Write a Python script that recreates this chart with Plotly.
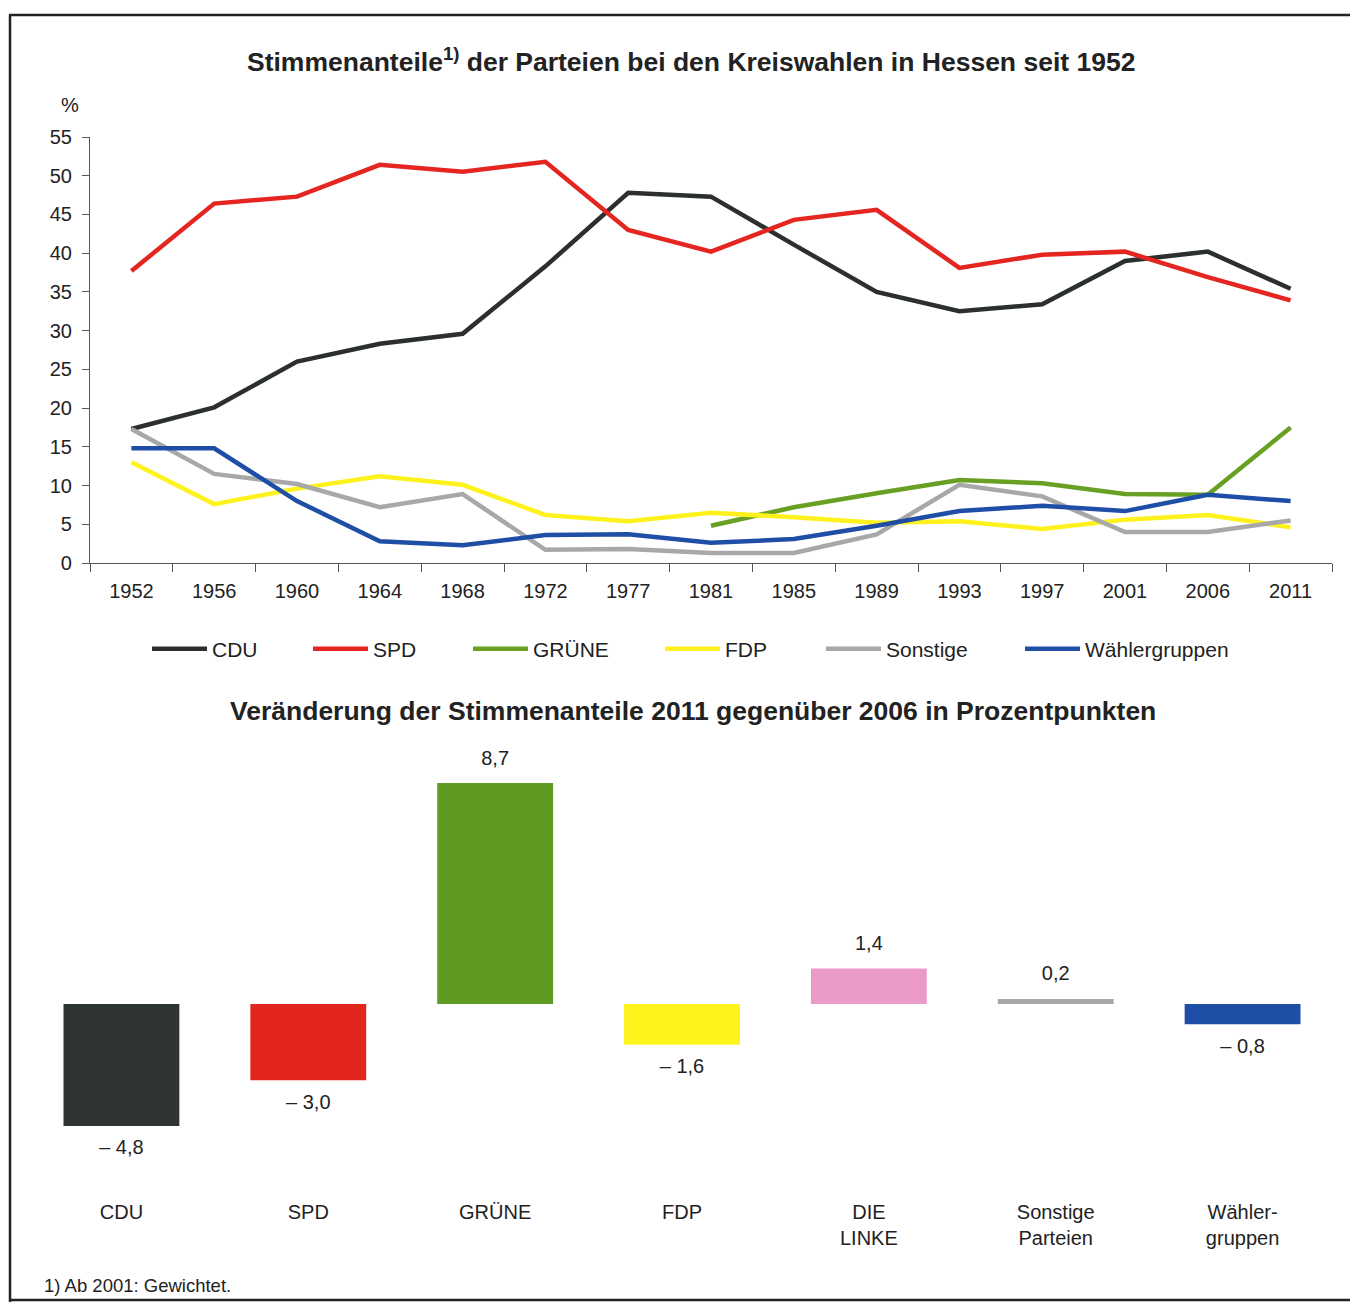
import plotly.graph_objects as go

FONT = "Liberation Sans, Arial, sans-serif"
# page body adds an 8px margin at the top-left; place everything relative to that
OFF = 8
W, H = 1358 - OFF, 1302 - OFF

# ---------------- data ----------------
years = ["1952", "1956", "1960", "1964", "1968", "1972", "1977", "1981",
         "1985", "1989", "1993", "1997", "2001", "2006", "2011"]

cdu = [17.3, 20.1, 26.0, 28.3, 29.6, 38.3, 47.8, 47.3, 41.1, 35.0, 32.5, 33.4, 39.0, 40.2, 35.4]
spd = [37.7, 46.4, 47.3, 51.4, 50.5, 51.8, 43.0, 40.2, 44.3, 45.6, 38.1, 39.8, 40.2, 36.9, 33.9]
gruene = [None, None, None, None, None, None, None, 4.8, 7.2, 9.0, 10.7, 10.3, 8.9, 8.8, 17.5]
fdp = [13.0, 7.6, 9.6, 11.2, 10.1, 6.2, 5.4, 6.5, 5.9, 5.2, 5.4, 4.4, 5.6, 6.2, 4.6]
sonstige = [17.3, 11.5, 10.2, 7.2, 8.9, 1.7, 1.8, 1.3, 1.3, 3.7, 10.1, 8.6, 4.0, 4.0, 5.5]
waehler = [14.8, 14.8, 8.0, 2.8, 2.3, 3.6, 3.7, 2.6, 3.1, 4.8, 6.7, 7.4, 6.7, 8.8, 8.0]

line_names = ["CDU", "SPD", "GRÜNE", "FDP", "Sonstige", "Wählergruppen"]
line_colors = ["#2b302e", "#e52520", "#67a022", "#fff21c", "#a8a8a8", "#1f4ea6"]

bar_cats = ["CDU", "SPD", "GRÜNE", "FDP", "DIE<br>LINKE", "Sonstige<br>Parteien", "Wähler-<br>gruppen"]
bar_vals = [-4.8, -3.0, 8.7, -1.6, 1.4, 0.2, -0.8]
bar_colors = ["#2d3432", "#e3261d", "#5f9b22", "#fff31c", "#ec9bc9", "#a7a7a7", "#1f4ea6"]

y_ticks = list(range(0, 56, 5))


def fx(px):
    return (px - OFF) / W


def fy(py):
    return 1 - (py - OFF) / H


def fmt(v):
    s = f"{abs(v):.1f}".replace(".", ",")
    return ("– " + s) if v < 0 else s


fig = go.Figure()

legend_ids = ["legend", "legend2", "legend3", "legend4", "legend5", "legend6"]
legend_px = [152, 313, 473, 665, 826, 1025]  # start of each legend entry

for name, vals, col, lid in zip(line_names, [cdu, spd, gruene, fdp, sonstige, waehler],
                                line_colors, legend_ids):
    fig.add_trace(go.Scatter(x=years, y=vals, name=name, mode="lines",
                             line=dict(color=col, width=4.5), legend=lid,
                             xaxis="x", yaxis="y", hoverinfo="x+y+name"))

fig.add_trace(go.Bar(x=bar_cats, y=bar_vals, marker=dict(color=bar_colors, line=dict(width=0)),
                     showlegend=False, xaxis="x2", yaxis="y2"))

# value labels: transparent markers give the text a gap from the bar end
fig.add_trace(go.Scatter(x=bar_cats, y=bar_vals, mode="markers+text",
                         text=[fmt(v) for v in bar_vals],
                         textposition=["top center" if v >= 0 else "bottom center" for v in bar_vals],
                         marker=dict(size=20, opacity=0),
                         textfont=dict(size=20, color="#222", family=FONT),
                         cliponaxis=False, showlegend=False, hoverinfo="skip",
                         xaxis="x2", yaxis="y2"))

axis_col = "#555"
top_dom_y = [fy(563), fy(137)]
bot_dom_y = [fy(1190), fy(760)]
scale = 25.4
bot_range = [-(1190 - 1004) / scale, (1004 - 760) / scale]
bot_dom_x = [fx(28), fx(1336)]
zero_y = fy(1004)

legends = {}
for lid, px in zip(legend_ids, legend_px):
    legends[lid] = dict(orientation="h", x=fx(px - 5), y=fy(649), xanchor="left", yanchor="middle",
                        font=dict(size=21, color="#222"), itemwidth=55,
                        bgcolor="rgba(0,0,0,0)")

boundary_ticks = [i - 0.5 for i in range(8)]

fig.update_layout(
    width=W, height=H,
    margin=dict(l=0, r=0, t=0, b=0, pad=0, autoexpand=False),
    paper_bgcolor="white", plot_bgcolor="rgba(0,0,0,0)",
    font=dict(family=FONT, size=20, color="#222"),
    bargap=0.38,
    showlegend=True,
    **legends,
    xaxis=dict(domain=[fx(90), fx(1332)], anchor="y", type="category",
               range=[-0.5, 14.5], automargin=False,
               showline=True, linecolor=axis_col, linewidth=1.2,
               ticks="outside", ticklen=8, tickcolor=axis_col, tickson="boundaries",
               ticklabelstandoff=10, showgrid=False, zeroline=False,
               tickfont=dict(size=20, color="#222")),
    yaxis=dict(domain=top_dom_y, anchor="x", range=[0, 55], tickvals=y_ticks,
               automargin=False,
               showline=True, linecolor=axis_col, linewidth=1.2,
               ticks="outside", ticklen=7, tickcolor=axis_col,
               ticklabelstandoff=6, showgrid=False, zeroline=False,
               tickfont=dict(size=20, color="#222")),
    xaxis3=dict(overlaying="x", anchor="y", range=[-0.5, 14.5], type="linear",
                automargin=False,
                tickvals=[i - 0.5 for i in range(16)], ticks="inside", ticklen=8,
                tickcolor=axis_col, showticklabels=False, showline=False,
                showgrid=False, zeroline=False),
    xaxis2=dict(domain=bot_dom_x, anchor="y2", type="category",
                range=[-0.5, 6.5], automargin=False,
                showline=False, ticks="", showgrid=False, zeroline=False,
                ticklabelstandoff=8, tickfont=dict(size=20, color="#222")),
    yaxis2=dict(domain=bot_dom_y, anchor="x2", range=bot_range, automargin=False,
                visible=False, showgrid=False, zeroline=False),
    # zero line of the bar chart with boundary ticks crossing it
    yaxis3=dict(domain=[zero_y, zero_y + 0.01], anchor="x4", range=[0, 1],
                visible=False, automargin=False, showgrid=False, zeroline=False),
    xaxis4=dict(domain=bot_dom_x, anchor="y3", range=[-0.5, 6.5],
                type="linear", tickvals=boundary_ticks, automargin=False,
                showline=True, linecolor=axis_col, linewidth=1.2,
                ticks="outside", ticklen=8, tickcolor=axis_col,
                showticklabels=False, showgrid=False, zeroline=False),
    xaxis5=dict(overlaying="x4", anchor="y3", range=[-0.5, 6.5],
                type="linear", tickvals=boundary_ticks, automargin=False,
                showline=False, ticks="inside", ticklen=8, tickcolor=axis_col,
                showticklabels=False, showgrid=False, zeroline=False),
)

annotations = [
    dict(text="<b>Stimmenanteile<sup>1)</sup> der Parteien bei den Kreiswahlen in Hessen seit 1952</b>",
         x=fx(691), y=fy(60), xref="paper", yref="paper", xanchor="center", yanchor="middle",
         showarrow=False, font=dict(size=26.5, color="#222")),
    dict(text="<b>Veränderung der Stimmenanteile 2011 gegenüber 2006 in Prozentpunkten</b>",
         x=fx(693), y=fy(711), xref="paper", yref="paper", xanchor="center", yanchor="middle",
         showarrow=False, font=dict(size=26.5, color="#222")),
    dict(text="%", x=fx(70), y=fy(105), xref="paper", yref="paper", xanchor="center",
         yanchor="middle", showarrow=False, font=dict(size=20, color="#222")),
    dict(text="1) Ab 2001: Gewichtet.", x=fx(42), y=fy(1285), xref="paper", yref="paper",
         xanchor="left", yanchor="middle", showarrow=False, font=dict(size=18.5, color="#222")),
]
fig.update_layout(annotations=annotations)

frame = dict(color="#222", width=2.5)
fig.update_layout(shapes=[
    dict(type="line", xref="paper", yref="paper", x0=fx(9), x1=1, y0=fy(15), y1=fy(15), line=frame),
    dict(type="line", xref="paper", yref="paper", x0=fx(10), x1=fx(10), y0=0, y1=fy(15), line=frame),
    dict(type="line", xref="paper", yref="paper", x0=fx(10), x1=1, y0=fy(1300), y1=fy(1300), line=frame),
])

fig.write_html("out.html")
